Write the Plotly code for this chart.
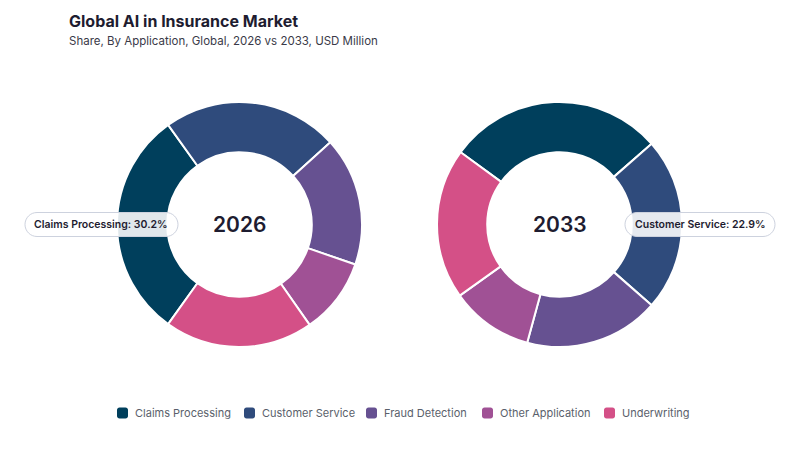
import plotly.graph_objects as go

title = "Global AI in Insurance Market"
subtitle = "Share, By Application, Global, 2026 vs 2033, USD Million"
categories = ["Claims Processing", "Customer Service", "Fraud Detection", "Other Application", "Underwriting"]
years = ["2026", "2033"]
share_2026 = [30.2, 23.2, 17.0, 10.0, 19.6]
share_2033 = [28.5, 22.9, 17.8, 10.9, 19.9]
colors = ["#003f5c", "#2f4b7c", "#665191", "#a05195", "#d45087"]

W, H = 800, 450
FONT = "Inter, 'Open Sans', sans-serif"
DARK = "#1e1c30"


def px_x(x):
    return x / W


def px_y(y):
    return 1 - y / H


fig = go.Figure()

# donut geometry (pixels): centre and outer radius
donuts = [(239.5, 224.5), (559.5, 224.5)]
R = 122.5

series = [share_2026, share_2033]
s0 = sum(share_2026)
s1 = sum(share_2033)
rot_left = 270 - share_2026[0] / s0 * 180
rot_right = 90 - share_2033[1] / s1 * 180 - share_2033[0] / s1 * 360

for i, (vals, rot) in enumerate(zip(series, [rot_left, rot_right])):
    cx, cy = donuts[i]
    fig.add_trace(go.Pie(
        labels=categories,
        values=vals,
        hole=0.59,
        sort=False,
        direction="clockwise",
        rotation=rot,
        marker=dict(colors=colors, line=dict(color="white", width=2)),
        textinfo="none",
        hoverinfo="skip",
        showlegend=False,
        domain=dict(x=[px_x(cx - R), px_x(cx + R)], y=[px_y(cy + R), px_y(cy - R)]),
    ))
    fig.add_annotation(
        x=px_x(cx), y=px_y(cy), xref="paper", yref="paper",
        text=years[i], showarrow=False,
        font=dict(family=FONT, size=21, color=DARK, weight=600),
        xanchor="center", yanchor="middle",
    )


def rounded_rect(x0, x1, y0, y1, r):
    k = 0.5523 * r
    pts = [
        f"M {px_x(x0 + r)},{px_y(y0)}",
        f"L {px_x(x1 - r)},{px_y(y0)}",
        f"C {px_x(x1 - r + k)},{px_y(y0)} {px_x(x1)},{px_y(y0 + r - k)} {px_x(x1)},{px_y(y0 + r)}",
        f"L {px_x(x1)},{px_y(y1 - r)}",
        f"C {px_x(x1)},{px_y(y1 - r + k)} {px_x(x1 - r + k)},{px_y(y1)} {px_x(x1 - r)},{px_y(y1)}",
        f"L {px_x(x0 + r)},{px_y(y1)}",
        f"C {px_x(x0 + r - k)},{px_y(y1)} {px_x(x0)},{px_y(y1 - r + k)} {px_x(x0)},{px_y(y1 - r)}",
        f"L {px_x(x0)},{px_y(y0 + r)}",
        f"C {px_x(x0)},{px_y(y0 + r - k)} {px_x(x0 + r - k)},{px_y(y0)} {px_x(x0 + r)},{px_y(y0)}",
        "Z",
    ]
    return " ".join(pts)


labels_boxes = [
    (25, 178, 224.5, f"{categories[0]}: {share_2026[0]:.1f}%"),
    (625, 775, 224.5, f"{categories[1]}: {share_2033[1]:.1f}%"),
]
for x0, x1, yc, txt in labels_boxes:
    fig.add_shape(type="path", path=rounded_rect(x0, x1, yc - 12, yc + 12, 12), xref="paper", yref="paper",
                  fillcolor="rgba(255,255,255,0.88)", line=dict(color="#cdd2de", width=1))
    fig.add_annotation(x=px_x((x0 + x1) / 2), y=px_y(yc), xref="paper", yref="paper",
                       text=txt, showarrow=False, xanchor="center", yanchor="middle",
                       font=dict(family=FONT, size=10.5, color=DARK, weight=600))

fig.add_annotation(x=px_x(67), y=px_y(21), xref="paper", yref="paper", text=title,
                   showarrow=False, xanchor="left", yanchor="middle",
                   font=dict(family=FONT, size=16, color=DARK, weight=700))
fig.add_annotation(x=px_x(67), y=px_y(41), xref="paper", yref="paper", text=subtitle,
                   showarrow=False, xanchor="left", yanchor="middle",
                   font=dict(family=FONT, size=11.5, color="#3a3a48"))

# custom legend (layout positions in pixels)
legend_x = [117, 244, 366, 482, 604]
legend_y = 413
for cat, col, lx in zip(categories, colors, legend_x):
    fig.add_shape(type="path", path=rounded_rect(lx, lx + 11, legend_y - 5.5, legend_y + 5.5, 2.5),
                  xref="paper", yref="paper", fillcolor=col, line=dict(width=0))
    fig.add_annotation(x=px_x(lx + 16), y=px_y(legend_y), xref="paper", yref="paper", text=cat,
                       showarrow=False, xanchor="left", yanchor="middle",
                       font=dict(family=FONT, size=11, color="#5a5f6b"))

fig.update_layout(
    width=W, height=H,
    margin=dict(l=0, r=0, t=0, b=0),
    paper_bgcolor="white", plot_bgcolor="white",
    font=dict(family=FONT),
    showlegend=False,
)

fig.write_html("out.html")
